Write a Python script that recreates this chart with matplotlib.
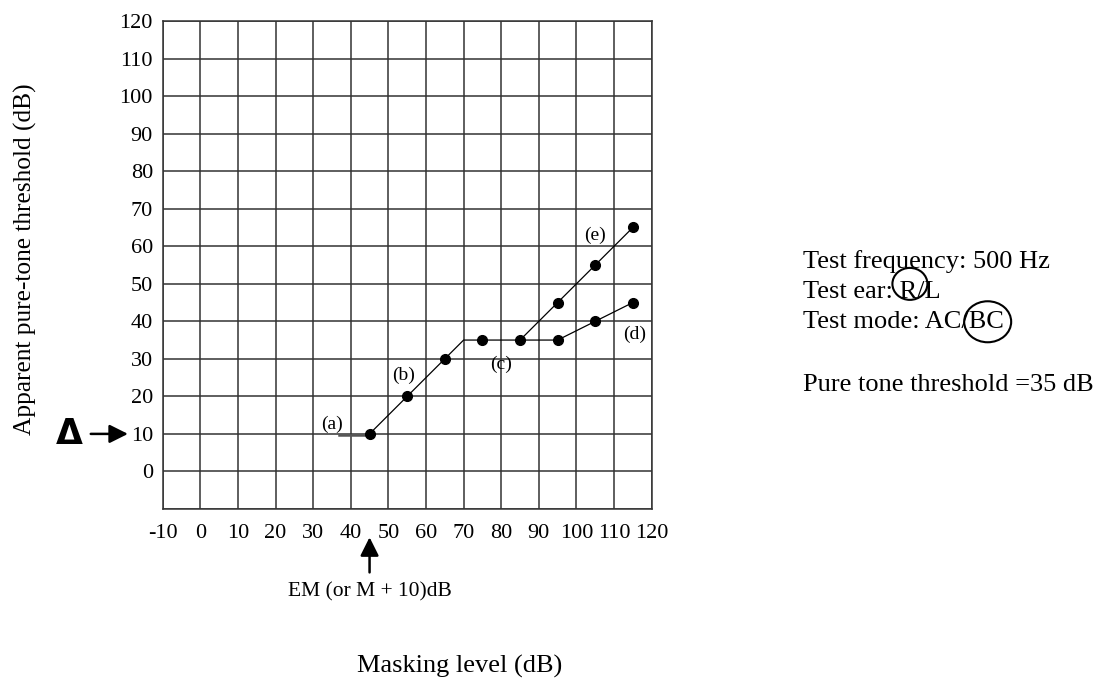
import matplotlib
matplotlib.use("Agg")
import matplotlib.pyplot as plt
from matplotlib.patches import Ellipse

plt.rcParams["font.family"] = ["Liberation Serif", "DejaVu Serif"]

# common path (a)-(b)-(c)
path_x = [45, 55, 65, 70, 75, 85, 95]
path_y = [10, 20, 30, 35, 35, 35, 35]
# branch (d)
d_x = [95, 105, 115]
d_y = [35, 40, 45]
# branch (e)
e_x = [85, 95, 105, 115]
e_y = [35, 45, 55, 65]
# dots
dot_x = [45, 55, 65, 75, 85, 95, 105, 115, 95, 105, 115]
dot_y = [10, 20, 30, 35, 35, 35, 40, 45, 45, 55, 65]
# leading flat part of (a)
a_x = [37, 45]
a_y = [9.6, 9.6]

x_ticks = list(range(-10, 121, 10))
y_ticks = list(range(0, 121, 10))

segment_labels = ["(a)", "(b)", "(c)", "(d)", "(e)"]
segment_label_x = [35, 54, 80, 115.5, 105]
segment_label_y = [12.5, 25.5, 28.5, 36.5, 63]

GRID_COLOR = "#333333"

fig = plt.figure(figsize=(11.11, 6.89), dpi=100)
ax = fig.add_axes([0.1464, 0.2613, 0.4402, 0.7082])

ax.set_xlim(-10, 120)
ax.set_ylim(-10, 120)
ax.set_xticks(x_ticks)
ax.set_xticklabels([str(v) for v in x_ticks])
ax.set_yticks(list(range(-10, 121, 10)))
ax.set_yticklabels([""] + [str(v) for v in y_ticks])
ax.tick_params(length=0, labelsize=16)
ax.tick_params(axis="x", pad=11)
ax.tick_params(axis="y", pad=7)
ax.grid(True, color=GRID_COLOR, linewidth=1.1)
for spine in ax.spines.values():
    spine.set_color(GRID_COLOR)
    spine.set_linewidth(1.1)

ax.plot(a_x, a_y, color="#555555", linewidth=1.8, zorder=3)
ax.plot(path_x, path_y, color="black", linewidth=0.9, zorder=3)
ax.plot(d_x, d_y, color="black", linewidth=0.9, zorder=3)
ax.plot(e_x, e_y, color="black", linewidth=0.9, zorder=3)
ax.plot(dot_x, dot_y, "o", color="black", markersize=7, zorder=4)

for lbl, lx, ly in zip(segment_labels, segment_label_x, segment_label_y):
    ax.text(lx, ly, lbl, fontsize=14, ha="center", va="center", zorder=5)

# triangle + arrow pointing at 10
ax.annotate(
    "",
    xy=(-0.071, 10), xycoords=("axes fraction", "data"),
    xytext=(-0.147, 10), textcoords=("axes fraction", "data"),
    arrowprops=dict(arrowstyle="-|>", color="black", linewidth=1.8,
                    mutation_scale=28, shrinkA=0, shrinkB=0),
    annotation_clip=False,
)
ax.text(-0.19, 10, "Δ", transform=ax.get_yaxis_transform(),
        fontsize=25, family="DejaVu Sans", fontweight="bold",
        ha="center", va="center")

# EM arrow
ax.annotate(
    "",
    xy=(45, -0.058), xycoords=("data", "axes fraction"),
    xytext=(45, -0.13), textcoords=("data", "axes fraction"),
    arrowprops=dict(arrowstyle="-|>", color="black", linewidth=1.8,
                    mutation_scale=28, shrinkA=0, shrinkB=0),
    annotation_clip=False,
)
ax.text(45, -0.17, "EM (or M + 10)dB", transform=ax.get_xaxis_transform(),
        fontsize=15.5, ha="center", va="center")

fig.text(0.0225, 0.624, "Apparent pure-tone threshold (dB)", rotation=90,
         fontsize=18.3, ha="center", va="center")
fig.text(0.414, 0.032, "Masking level (dB)", fontsize=19,
         ha="center", va="center")

# info block on the right
fig.text(0.7225, 0.621, "Test frequency: 500 Hz", fontsize=19, va="center")
fig.text(0.7225, 0.576, "Test ear: R/L", fontsize=19, va="center")
fig.text(0.7225, 0.532, "Test mode: AC/BC", fontsize=19, va="center")
fig.text(0.7225, 0.441, "Pure tone threshold =35 dB", fontsize=19, va="center")

fig.patches.append(Ellipse((0.819, 0.588), 0.0315, 0.0464, fill=False,
                           edgecolor="black", linewidth=1.5,
                           transform=fig.transFigure))
fig.patches.append(Ellipse((0.889, 0.533), 0.0423, 0.0595, fill=False,
                           edgecolor="black", linewidth=1.5,
                           transform=fig.transFigure))

fig.savefig("out.png", dpi=100)
